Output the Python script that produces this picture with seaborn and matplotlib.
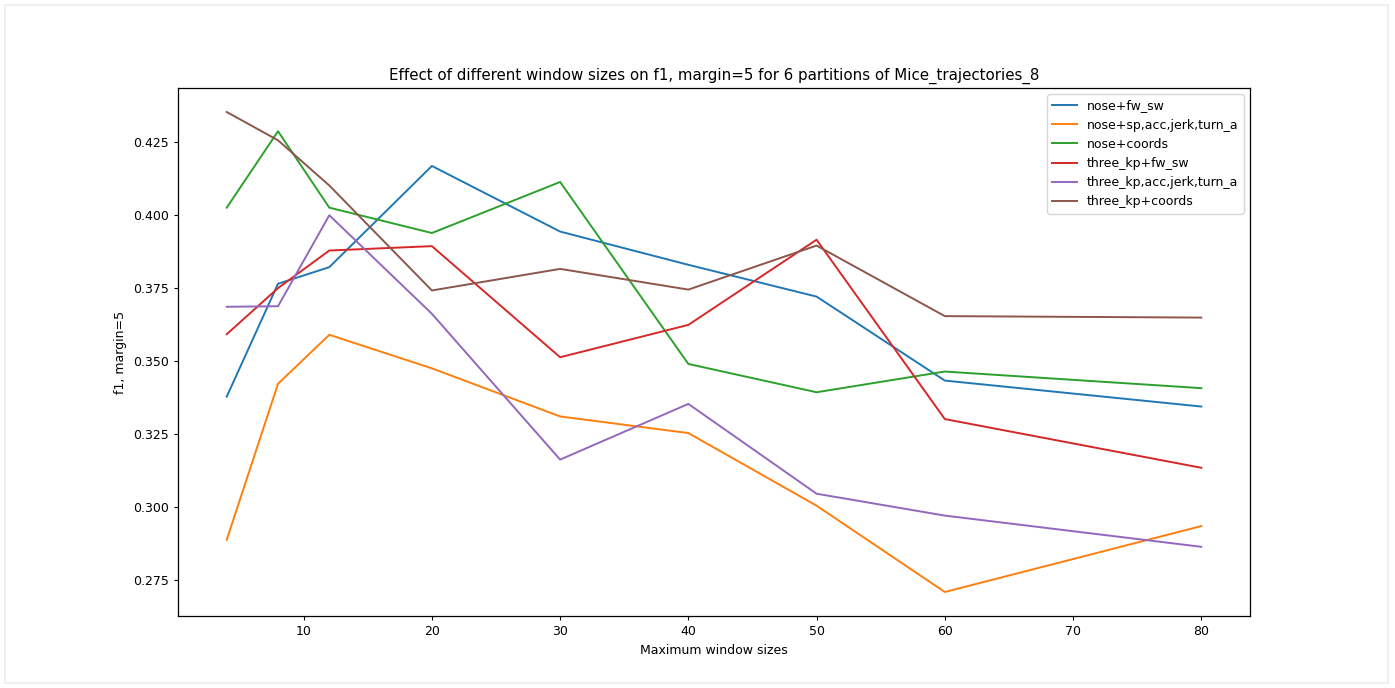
import numpy as np
import pandas as pd
import matplotlib
matplotlib.use('Agg')
import matplotlib.pyplot as plt
import seaborn as sns

window_sizes = [4, 8, 12, 20, 30, 40, 50, 60, 80]

nose_fw_sw = [0.3378, 0.3765, 0.3822, 0.4169, 0.3944, 0.3830, 0.3721, 0.3433, 0.3344]
nose_sp_acc = [0.2887, 0.3422, 0.3590, 0.3475, 0.3310, 0.3253, 0.3004, 0.2708, 0.2934]
nose_coords = [0.4026, 0.4288, 0.4026, 0.3939, 0.4114, 0.3490, 0.3393, 0.3464, 0.3407]
three_kp_fw_sw = [0.3592, 0.3750, 0.3879, 0.3894, 0.3513, 0.3624, 0.3916, 0.3301, 0.3134]
three_kp_acc = [0.3686, 0.3688, 0.4000, 0.3662, 0.3162, 0.3353, 0.3045, 0.2970, 0.2863]
three_kp_coords = [0.4354, 0.4257, 0.4102, 0.3742, 0.3816, 0.3745, 0.3896, 0.3654, 0.3649]

series_names = ['nose+fw_sw', 'nose+sp,acc,jerk,turn_a', 'nose+coords',
                'three_kp+fw_sw', 'three_kp,acc,jerk,turn_a', 'three_kp+coords']
series_values = [nose_fw_sw, nose_sp_acc, nose_coords,
                 three_kp_fw_sw, three_kp_acc, three_kp_coords]

# long-form table for seaborn
rows = []
for name, vals in zip(series_names, series_values):
    for w, v in zip(window_sizes, vals):
        rows.append({'window': w, 'f1': v, 'features': name})
df = pd.DataFrame(rows)

# the reference looks like a slightly downscaled notebook figure
plt.rcParams['font.size'] = 9
plt.rcParams['axes.linewidth'] = 0.9
plt.rcParams['xtick.major.size'] = 3.2
plt.rcParams['ytick.major.size'] = 3.2

fig = plt.figure(figsize=(13.95, 6.88), dpi=100)
ax = fig.add_axes([178 / 1395, 1 - 616 / 688, (1250 - 178) / 1395, (616 - 88) / 688])

sns.lineplot(data=df, x='window', y='f1', hue='features', hue_order=series_names,
             palette='tab10', ax=ax, linewidth=1.4)

ax.set_title('Effect of different window sizes on f1, margin=5 for 6 partitions of Mice_trajectories_8')
ax.set_xlabel('Maximum window sizes')
ax.set_ylabel('f1, margin=5')
ax.legend(loc='upper right', title=None)

# faint screenshot frame
fig.patches.append(plt.Rectangle((5 / 1395, 5 / 688), 1383 / 1395, 678 / 688,
                                 transform=fig.transFigure, fill=False,
                                 edgecolor='#ececec', linewidth=1.2))

fig.savefig('out.png', dpi=100)
